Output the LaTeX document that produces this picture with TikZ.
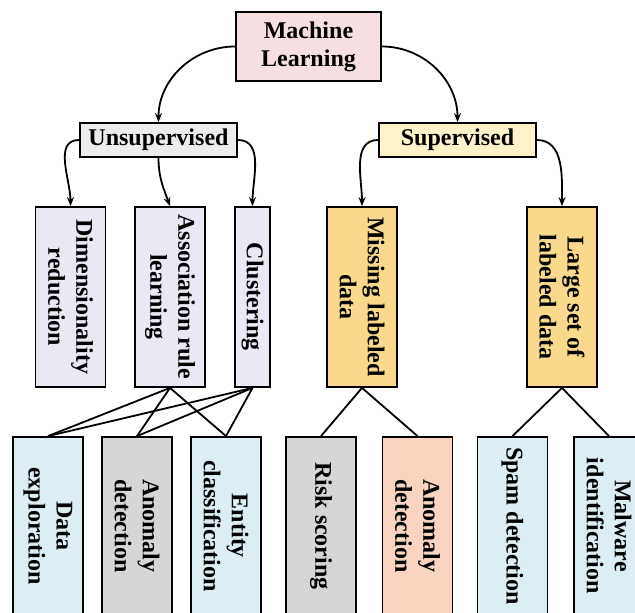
\documentclass[tikz,border=0pt]{standalone}
\usepackage{fontspec}
\setmainfont{Liberation Serif}
\usepackage{xcolor}
\usetikzlibrary{arrows.meta}

\definecolor{mlpink}{RGB}{245,223,225}
\definecolor{unsgray}{RGB}{236,236,236}
\definecolor{supyellow}{RGB}{253,242,200}
\definecolor{lavender}{RGB}{233,233,244}
\definecolor{gold}{RGB}{250,217,140}
\definecolor{paleblue}{RGB}{220,238,243}
\definecolor{midgray}{RGB}{214,214,216}
\definecolor{peach}{RGB}{250,212,190}

\begin{document}
\begin{tikzpicture}[x=1pt,y=1pt,>={Stealth[length=9pt,width=7pt]},
  box/.style={draw,line width=1.8pt,align=center,inner sep=2pt,
    font=\bfseries\fontsize{24}{28}\selectfont},
  vbox/.style={box,rotate=-90,minimum width=180pt,minimum height=70pt},
  leaf/.style={box,rotate=-90,minimum width=178pt,minimum height=70pt},
  link/.style={line width=1.8pt}]
\useasboundingbox (0,0) rectangle (635,613);
\clip (0,0) rectangle (635,613);
% top levels
\node[box,fill=mlpink,minimum width=145pt,minimum height=69pt] (ml) at (308.5,566.5) {Machine\\Learning};
\node[box,fill=unsgray,minimum width=157pt,minimum height=34pt] (unsup) at (158.5,473) {Unsupervised};
\node[box,fill=supyellow,minimum width=157pt,minimum height=34pt] (sup) at (457.5,473) {Supervised};
% middle row
\node[vbox,fill=lavender] (dim) at (70.5,316) {Dimensionality\\reduction};
\node[vbox,fill=lavender] (assoc) at (170,316) {Association rule\\learning};
\node[vbox,fill=lavender,minimum height=35pt] (clust) at (252.5,316) {Clustering};
\node[vbox,fill=gold] (miss) at (362,316) {Missing labeled\\data};
\node[vbox,fill=gold] (large) at (562,316) {Large set of\\labeled data};
% bottom row
\node[leaf,fill=paleblue] (explore) at (48,87) {Data\\exploration};
\node[leaf,fill=midgray] (anom) at (137,87) {Anomaly\\detection};
\node[leaf,fill=paleblue] (entity) at (226,87) {Entity\\classification};
\node[leaf,fill=midgray] (risk) at (321,87) {Risk scoring};
\node[leaf,fill=peach] (anomsup) at (417.5,87) {Anomaly\\detection};
\node[leaf,fill=paleblue] (spam) at (512.5,87) {Spam detection};
\node[leaf,fill=paleblue] (malware) at (609,87) {Malware\\identification};
% arrows
\draw[link,->] (ml.west) to[out=180,in=90] (unsup.north);
\draw[link,->] (ml.east) to[out=0,in=90] (sup.north);
\draw[link,->] (unsup.west) to[out=180,in=90] (dim.west);
\draw[link,->] (unsup.south) to[out=-90,in=110] (assoc.west);
\draw[link,->] (unsup.east) to[out=0,in=90] (clust.west);
\draw[link,->] (sup.west) to[out=180,in=90] (miss.west);
\draw[link,->] (sup.east) to[out=0,in=90] (large.west);
% plain links
\foreach \src in {assoc,clust}
  \foreach \dst in {explore,anom,entity}
    \draw[link] (\src.east) -- (\dst.west);
\draw[link] (miss.east) -- (risk.west);
\draw[link] (miss.east) -- (anomsup.west);
\draw[link] (large.east) -- (spam.west);
\draw[link] (large.east) -- (malware.west);
\end{tikzpicture}
\end{document}
